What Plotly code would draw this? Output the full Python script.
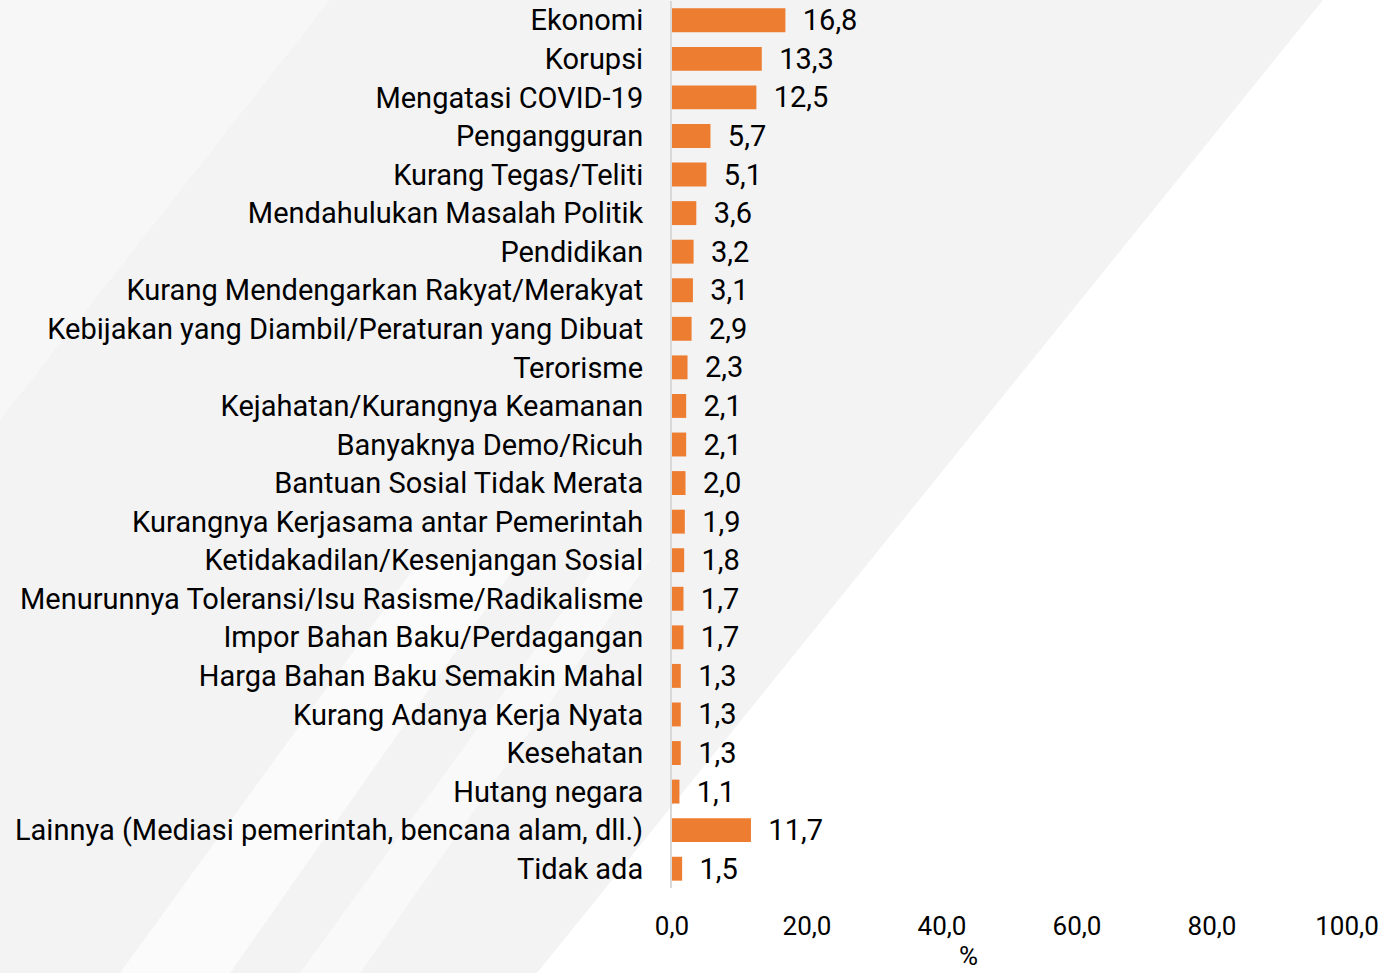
import plotly.graph_objects as go

categories = [
    "Ekonomi", "Korupsi", "Mengatasi COVID-19", "Pengangguran", "Kurang Tegas/Teliti",
    "Mendahulukan Masalah Politik", "Pendidikan", "Kurang Mendengarkan Rakyat/Merakyat",
    "Kebijakan yang Diambil/Peraturan yang Dibuat", "Terorisme",
    "Kejahatan/Kurangnya Keamanan", "Banyaknya Demo/Ricuh", "Bantuan Sosial Tidak Merata",
    "Kurangnya Kerjasama antar Pemerintah", "Ketidakadilan/Kesenjangan Sosial",
    "Menurunnya Toleransi/Isu Rasisme/Radikalisme", "Impor Bahan Baku/Perdagangan",
    "Harga Bahan Baku Semakin Mahal", "Kurang Adanya Kerja Nyata", "Kesehatan",
    "Hutang negara", "Lainnya (Mediasi pemerintah, bencana alam, dll.)", "Tidak ada",
]
values = [16.8, 13.3, 12.5, 5.7, 5.1, 3.6, 3.2, 3.1, 2.9, 2.3, 2.1, 2.1, 2.0,
          1.9, 1.8, 1.7, 1.7, 1.3, 1.3, 1.3, 1.1, 11.7, 1.5]
tick_vals = [0, 20, 40, 60, 80, 100]
tick_text = ["0,0", "20,0", "40,0", "60,0", "80,0", "100,0"]
axis_title = "%"

FONT = "Roboto, 'DejaVu Sans', sans-serif"
labels = ["\u00a0\u00a0" + f"{v:.1f}".replace(".", ",") for v in values]

fig = go.Figure()
fig.add_trace(go.Bar(
    y=categories, x=values, orientation="h",
    marker=dict(color="#ED7D31", line=dict(width=0)),
    text=labels, textposition="outside", cliponaxis=False,
    constraintext="none",
    textfont=dict(family=FONT, size=29, color="#000000"),
    hoverinfo="x+y",
))

W, H = 1390, 973
L, T, R, B = 672, 1, 43, 85
pw, ph = W - L - R, H - T - B

def to_dom(x, y):
    return ((x - L) / pw, 1 - (y - T) / ph)

def shape_px(pts, color):
    d = [to_dom(x, y) for x, y in pts]
    p = "M " + " L ".join(f"{x:.4f},{y:.4f}" for x, y in d) + " Z"
    return dict(type="path", xref="x domain", yref="y domain", layer="below",
                path=p, fillcolor=color, line=dict(width=0))

# decorative background stripes
shapes = [
    shape_px([(0, 0), (1323, 0), (537, 973), (0, 973)], "#f3f3f4"),
    shape_px([(0, 0), (330, 0), (0, 420)], "#f7f7f8"),
    shape_px([(120, 973), (420, 560), (520, 560), (230, 973)], "#fbfbfb"),
    shape_px([(300, 973), (600, 560), (650, 560), (360, 973)], "#f9f9f9"),
]

fig.update_layout(
    width=W, height=H,
    margin=dict(l=L, r=R, t=T, b=B),
    paper_bgcolor="#ffffff", plot_bgcolor="rgba(0,0,0,0)",
    showlegend=False,
    bargap=0.38,
    font=dict(family=FONT, size=26, color="#000000"),
    shapes=shapes,
    xaxis=dict(range=[0, 100], tickvals=tick_vals, ticktext=tick_text,
               showgrid=False, zeroline=False, showline=False,
               ticks="outside", ticklen=15, tickcolor="rgba(0,0,0,0)",
               tickfont=dict(family=FONT, size=26, color="#000000")),
    yaxis=dict(autorange="reversed", showgrid=False, zeroline=False,
               showline=True, linecolor="#d9d9d9", linewidth=2,
               ticks="outside", ticklen=21, tickcolor="rgba(0,0,0,0)",
               tickfont=dict(family=FONT, size=29, color="#000000")),
    annotations=[dict(text=axis_title, xref="x domain", yref="paper",
                      x=(968 - L) / pw, y=-(956 - (H - B)) / ph,
                      yanchor="middle", xanchor="center", showarrow=False,
                      font=dict(family=FONT, size=26, color="#000000"))],
)

fig.write_html("out.html", config={"displayModeBar": False},
               post_script="document.body.style.margin='0px';document.body.style.padding='0px';")
